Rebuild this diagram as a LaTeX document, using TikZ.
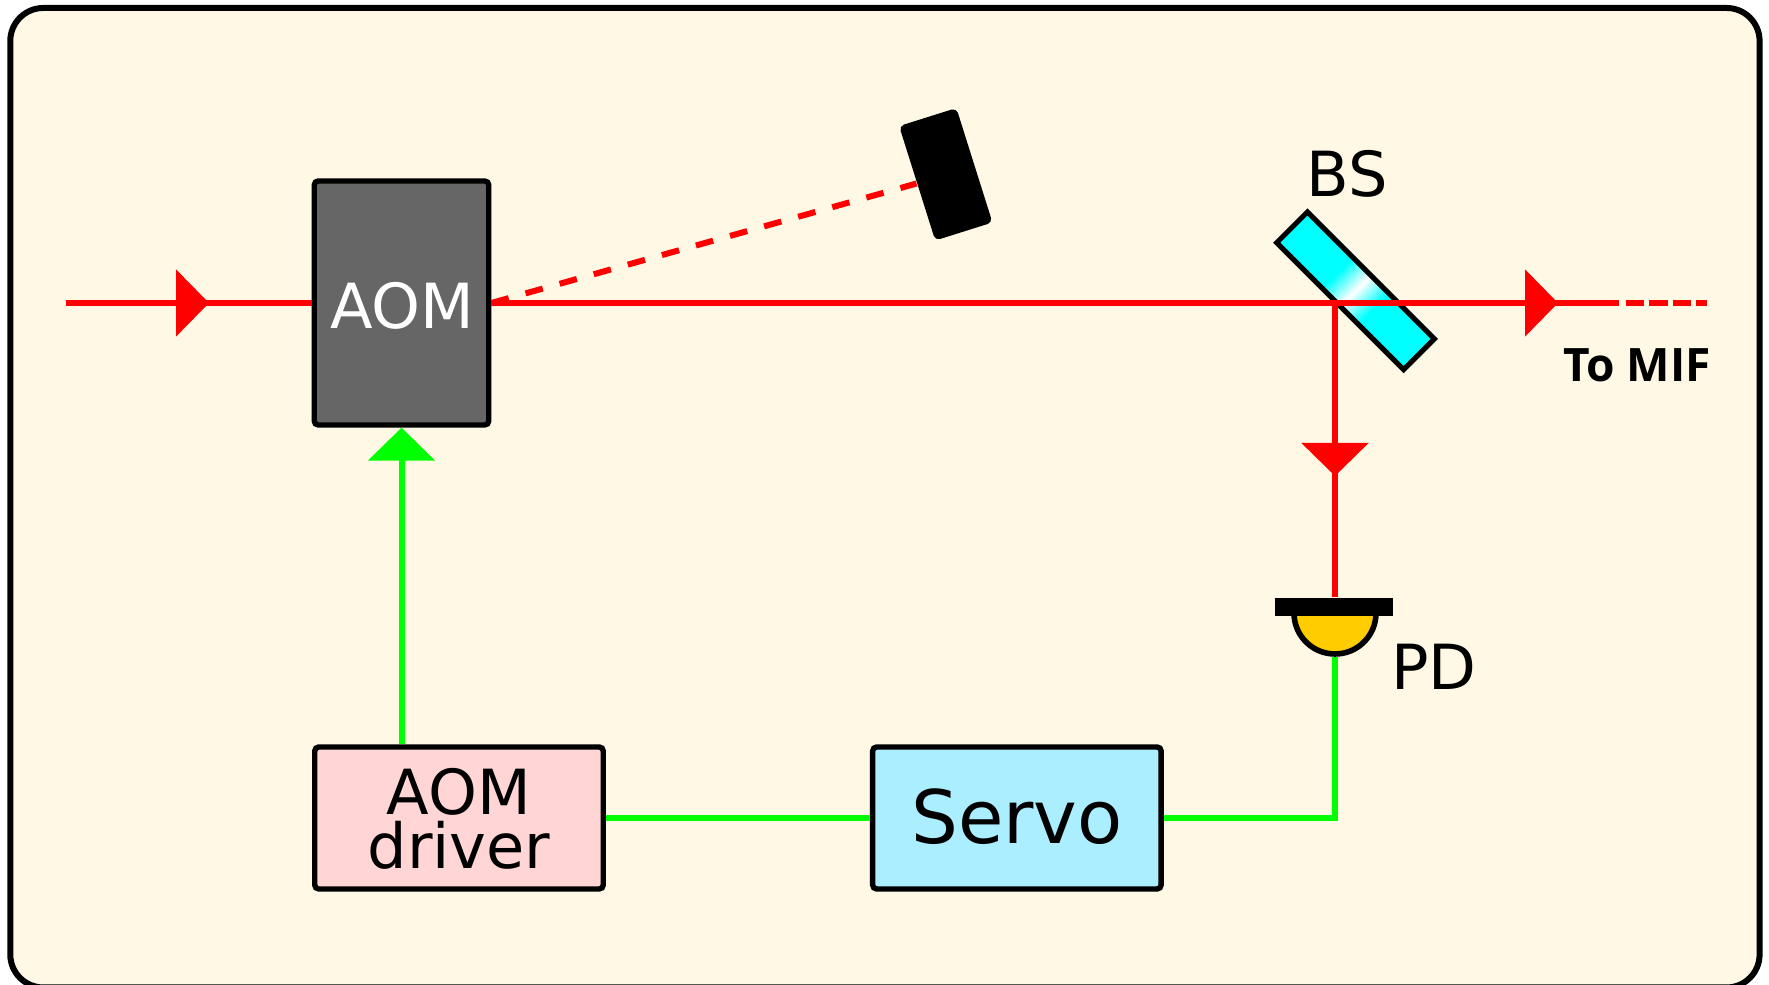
\documentclass[tikz,border=0pt]{standalone}
\usepackage{fontspec}
\setmainfont{DejaVu Sans}
\newfontfamily\tagfont{Open Sans}
\usetikzlibrary{positioning,arrows.meta}

\definecolor{panelcream}{HTML}{FFF8E5}
\definecolor{aomgrey}{HTML}{666666}
\definecolor{driverpink}{HTML}{FFD5D5}
\definecolor{servoblue}{HTML}{AAEEFF}
\definecolor{pdyellow}{HTML}{FFCC00}
\definecolor{beamred}{HTML}{FF0000}
\definecolor{wiregreen}{HTML}{00FF00}

\pgfdeclarehorizontalshading{bsshade}{100bp}{color(0bp)=(cyan); color(42bp)=(cyan); color(50bp)=(white); color(58bp)=(cyan); color(100bp)=(cyan)}

\tikzset{
    labeltext/.style={font=\fontsize{17.7}{15.4}\selectfont,inner sep=0pt},
    unitbox/.style={draw=black,line width=0.054cm,rounded corners=0.04cm,labeltext},
    redbeam/.style={draw=beamred,line width=0.06cm},
    greenwire/.style={draw=wiregreen,line width=0.06cm},
    beamtip/.style={-{Triangle[length=#1,width=0.66cm]}},
}

\begin{document}
\begin{tikzpicture}
    \useasboundingbox (0,0) rectangle (17.69,9.85);
    \draw[line width=0.06cm,fill=panelcream,rounded corners=0.33cm] (0.103,-0.025) rectangle (17.596,9.77);

    \node[unitbox,fill=aomgrey,text=white,minimum width=1.745cm,minimum height=2.44cm,text height=0.52cm,text depth=0pt,text width=1.42cm,align=center] (aom) at (4.015,6.82) {AOM};
    \node[unitbox,fill=driverpink,minimum width=2.885cm,minimum height=1.42cm,align=center,text depth=0pt] (driver) at (4.59,1.67) {AOM\\driver};
    \node[unitbox,fill=servoblue,minimum width=2.885cm,minimum height=1.42cm,right=2.64cm of driver,font=\fontsize{21}{24}\selectfont,text height=0.51cm,text depth=0pt] (servo) {Servo};
    \node[fill=black,rotate=17.5,rounded corners=0.05cm,minimum width=0.6cm,minimum height=1.2cm,inner sep=0pt] (dump) at (9.458,8.107) {};
    \node[draw=black,line width=0.05cm,shading=bsshade,shading angle=-45,rotate=-45,minimum width=1.795cm,minimum height=0.435cm,inner sep=0pt] (bs) at (13.555,6.942) {};
    \node[labeltext] (bslabel) at (13.47,8.11) {BS};

    \coordinate (beamin) at (0.66,6.82);
    \coordinate[right=1.43cm of beamin] (tipin);
    \coordinate (split) at (13.35,6.82);
    \coordinate[right=2.23cm of split] (tipout);
    \coordinate[right=0.61cm of tipout] (solidend);
    \coordinate[right=0.066cm of solidend] (dashstart);
    \coordinate[right=0.81cm of dashstart] (beamend);
    \coordinate[below=1.73cm of split] (tipdown);

    \coordinate (pdcentre) at (13.35,3.72);
    \coordinate[below=0.437cm of pdcentre] (pdout);
    \draw[line width=0.056cm,fill=pdyellow] ([xshift=-0.41cm]pdcentre) arc[start angle=180,end angle=360,radius=0.41cm] -- cycle;
    \node[fill=black,minimum width=1.18cm,minimum height=0.18cm,inner sep=0pt] (pdbar) at (13.34,3.78) {};
    \node[labeltext] (pdlabel) at (14.34,3.18) {PD};

    \draw[redbeam] (beamin) -- (aom.west);
    \draw[redbeam,beamtip=0.33cm] (beamin) -- (tipin);
    \draw[redbeam,dash pattern=on 0.179cm off 0.175cm] (aom.east) -- (dump.west);
    \draw[redbeam] (aom.east) -- (solidend);
    \draw[redbeam,beamtip=0.33cm] (aom.east) -- (tipout);
    \draw[redbeam,dash pattern=on 0.186cm off 0.05cm] (dashstart) -- (beamend);
    \draw[redbeam] (split) -- (split |- pdbar.north);
    \draw[redbeam,beamtip=0.33cm] (split) -- (tipdown);

    \draw[greenwire,beamtip=0.33cm] (driver.north -| aom.south) -- (aom.south);
    \draw[greenwire] (driver.east) -- (servo.west);
    \draw[greenwire] (servo.east) -| (pdout);

    \node[below left=0.445cm and -0.05cm of beamend,font=\tagfont\bfseries\fontsize{13.1}{13}\selectfont,inner sep=0pt,text depth=0pt] (miflabel) {To MIF};
\end{tikzpicture}
\end{document}
